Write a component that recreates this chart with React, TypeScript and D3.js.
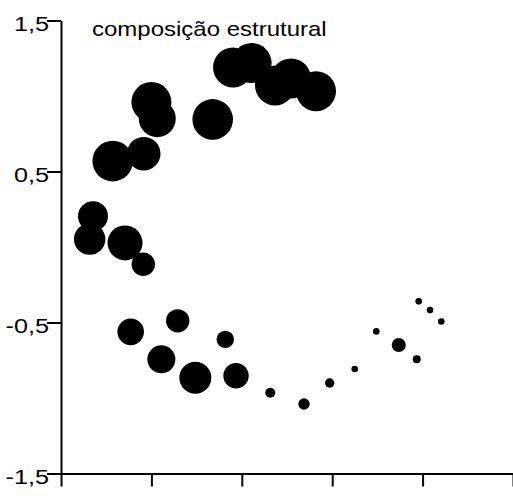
import React, { useEffect, useRef } from 'react';
import * as d3 from 'd3';

// pontos (x, y) e tamanho de cada círculo
const xValores = [
  1.0, 1.065, 1.678, 0.572, 0.915, 0.354, 0.317, 0.708, 0.91,
  1.903, 2.109, 2.367, 2.544, 2.821,
  0.771, 1.291, 1.817, 1.11, 1.486, 1.936,
  2.315, 2.688, 2.972, 3.249, 3.488, 3.736, 3.935, 3.957, 4.082, 4.207,
];
const yValores = [
  0.96, 0.85, 0.845, 0.569, 0.618, 0.204, 0.052, 0.027, -0.114,
  1.189, 1.218, 1.07, 1.116, 1.032,
  -0.562, -0.489, -0.612, -0.744, -0.866, -0.853,
  -0.965, -1.04, -0.901, -0.808, -0.559, -0.649, -0.744, -0.36, -0.418, -0.493,
];
const tamanhos = [
  20, 18.5, 20.3, 20.3, 16.8, 15, 15.7, 17.5, 11.7,
  20, 20, 20, 20, 20,
  13.3, 11.7, 8.7, 14, 16, 12.7,
  5, 5.7, 4.7, 3.3, 3.3, 7, 4, 3.3, 3.3, 3.3,
];
const yTicks = [1.5, 0.5, -0.5, -1.5];
const xTicks = [0, 1, 2, 3, 4, 5];
const titulo = 'composição estrutural';

const width = 513;
const height = 498;
const margin = { top: 20.5, right: 0, bottom: 24.5, left: 61 };
const fonte = '"Liberation Sans", Arial, Helvetica, sans-serif';

const ptBR = d3.formatLocale({
  decimal: ',',
  thousands: '.',
  grouping: [3],
  currency: ['R$', ''],
  minus: '-',
});

const App = () => {
  const svgRef = useRef<SVGSVGElement>(null);

  useEffect(() => {
    if (!svgRef.current) return;
    const svg = d3.select(svgRef.current);
    svg.selectAll('*').remove();

    const xScale = d3.scaleLinear().domain([0, 5]).range([margin.left, width - margin.right]);
    const yScale = d3.scaleLinear().domain([-1.5, 1.5]).range([height - margin.bottom, margin.top]);
    const rScale = d3.scaleLinear().domain([0, 20]).range([0, 20]);

    const pontos = xValores.map((x, i) => ({ x, y: yValores[i], r: tamanhos[i] }));

    // círculos
    svg.append('g')
      .selectAll('circle')
      .data(pontos)
      .enter()
      .append('circle')
      .attr('cx', d => xScale(d.x))
      .attr('cy', d => yScale(d.y))
      .attr('r', d => rScale(d.r))
      .attr('fill', '#000');

    // eixo x (sem rótulos)
    const xAxis = svg.append('g')
      .attr('transform', `translate(0,${yScale(-1.5)})`)
      .call(d3.axisBottom(xScale).tickValues(xTicks).tickSize(13).tickSizeOuter(0).tickFormat(() => ''));

    // eixo y
    const yAxis = svg.append('g')
      .attr('transform', `translate(${xScale(0)},0)`)
      .call(d3.axisLeft(yScale).tickValues(yTicks).tickSize(14).tickSizeOuter(0).tickFormat(() => ''));

    [xAxis, yAxis].forEach(g => {
      g.selectAll('path, line').attr('stroke', '#000').attr('stroke-width', 2);
      g.selectAll('text').remove();
    });

    const fmt = ptBR.format('.1f');
    svg.append('g')
      .selectAll('text')
      .data(yTicks)
      .enter()
      .append('text')
      .attr('transform', d => `translate(49,${yScale(d) + 10}) scale(1.2,1)`)
      .attr('text-anchor', 'end')
      .attr('font-family', fonte)
      .attr('font-size', 21)
      .attr('fill', '#000')
      .text(d => fmt(d));

    svg.append('text')
      .attr('transform', 'translate(92,36) scale(1.2,1)')
      .attr('font-family', fonte)
      .attr('font-size', 20)
      .attr('fill', '#000')
      .text(titulo);
  }, []);

  return (
    <svg
      ref={svgRef}
      width={width}
      height={height}
      style={{ position: 'absolute', left: 0, top: 0, background: '#fff' }}
    />
  );
};

export default App;
